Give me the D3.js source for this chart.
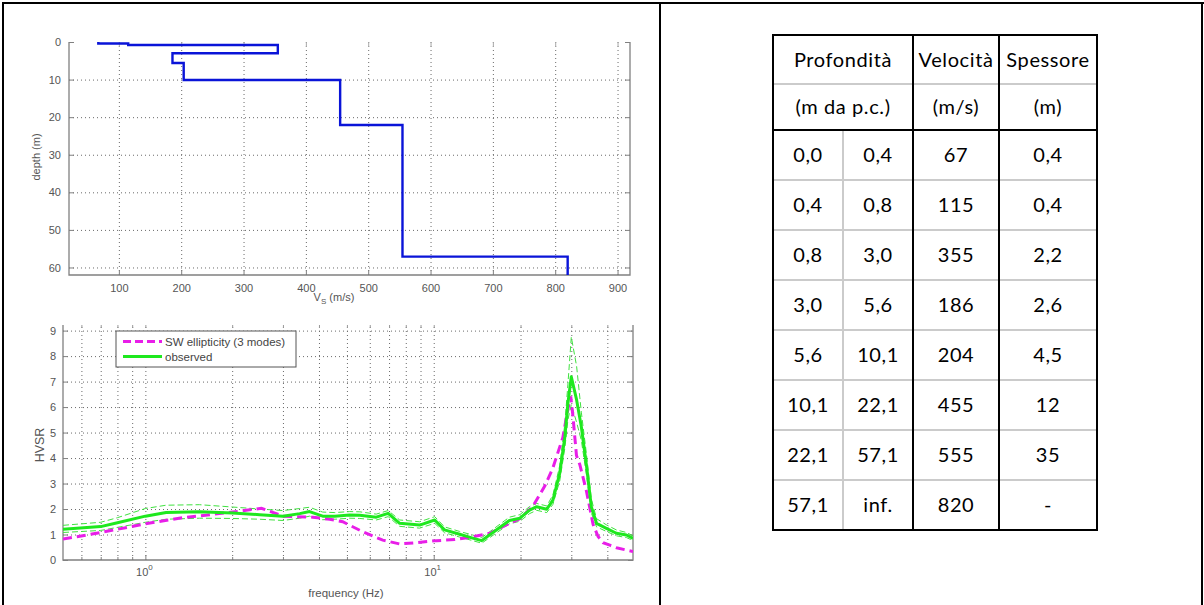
<!DOCTYPE html>
<html>
<head>
<meta charset="utf-8">
<script src="https://cdn.jsdelivr.net/npm/d3@7/dist/d3.min.js"></script>
<style>
  html, body { margin: 0; padding: 0; background: #fff; }
  svg { display: block; }
  .tick text { fill: #555; font-family: "Liberation Sans", Arial, sans-serif; font-size: 11px; }
</style>
</head>
<body>
<svg id="chart" width="1204" height="605"></svg>
<script>
// ---- Layer model (table + Vs profile) ----
const depthTop    = [0.0, 0.4, 0.8, 3.0, 5.6, 10.1, 22.1, 57.1];
const depthBottom = ["0,4", "0,8", "3,0", "5,6", "10,1", "22,1", "57,1", "inf."];
const velocity    = [67, 115, 355, 186, 204, 455, 555, 820];
const thickness   = ["0,4", "0,4", "2,2", "2,6", "4,5", "12", "35", "-"];
const tableHeader1 = ["Profondità", "Velocità", "Spessore"];
const tableHeader2 = ["(m da p.c.)", "(m/s)", "(m)"];

// ---- Vs profile axes ----
const vsTicks    = [100, 200, 300, 400, 500, 600, 700, 800, 900];
const depthTicks = [0, 10, 20, 30, 40, 50, 60];

// ---- HVSR curves ----
const freqObs = [0.518, 0.70, 0.80, 1.00, 1.18, 1.54, 2.00, 2.49, 3.00, 3.43, 3.71, 4.12, 4.54, 5.11,
                 5.54, 6.32, 6.95, 7.62, 8.94, 10.08, 10.9, 12.3, 13.65, 14.67, 15.6, 18.3, 19.9, 21.5,
                 22.75, 24.65, 25.9, 27.35, 28.5, 29.2, 30.0, 31.3, 32.5, 33.9, 35.2, 36.7, 39.7, 43.0,
                 46.6, 49.1];
const hvObs   = [1.21, 1.31, 1.46, 1.72, 1.86, 1.89, 1.84, 1.78, 1.72, 1.82, 1.90, 1.72, 1.72, 1.77,
                 1.76, 1.68, 1.83, 1.44, 1.37, 1.57, 1.18, 1.01, 0.86, 0.76, 0.98, 1.55, 1.64, 1.96,
                 2.09, 1.99, 2.35, 3.40, 4.84, 6.15, 7.19, 6.28, 5.23, 3.66, 2.09, 1.44, 1.24, 1.05,
                 0.98, 0.85];
const hvUpper = [1.36, 1.48, 1.66, 2.02, 2.15, 2.17, 2.08, 2.00, 1.94, 2.02, 2.07, 1.88, 1.86, 1.90,
                 1.89, 1.80, 1.94, 1.57, 1.50, 1.70, 1.30, 1.12, 0.98, 0.88, 1.10, 1.68, 1.78, 2.10,
                 2.22, 2.12, 2.55, 3.70, 5.35, 6.90, 8.75, 7.60, 5.80, 4.10, 2.40, 1.62, 1.38, 1.18,
                 1.08, 0.95];
const hvLower = [1.08, 1.16, 1.28, 1.48, 1.60, 1.64, 1.63, 1.60, 1.55, 1.64, 1.72, 1.58, 1.60, 1.64,
                 1.63, 1.57, 1.70, 1.32, 1.25, 1.44, 1.07, 0.90, 0.76, 0.66, 0.87, 1.42, 1.52, 1.82,
                 1.95, 1.86, 2.18, 3.10, 4.40, 5.50, 6.10, 5.40, 4.70, 3.30, 1.85, 1.30, 1.12, 0.95,
                 0.88, 0.76];
const freqSW = [0.518, 0.694, 1.00, 1.347, 2.008, 2.526, 3.001, 3.804, 4.357, 4.835, 5.671, 6.656,
                7.624, 8.73, 10.24, 11.83, 13.65, 15.64, 18.35, 19.88, 22.05, 24.27, 25.87, 28.03,
                29.16, 29.87, 30.42, 31.26, 32.1, 33.86, 35.69, 37.15, 38.66, 40.79, 43.03, 49.12];
const hvSW   = [0.82, 1.07, 1.42, 1.66, 1.88, 2.03, 1.72, 1.68, 1.60, 1.50, 1.11, 0.78,
                0.63, 0.68, 0.76, 0.80, 0.91, 1.05, 1.44, 1.62, 2.10, 2.90, 3.60, 4.80,
                5.90, 6.42, 5.60, 4.10, 3.75, 2.70, 1.40, 0.92, 0.68, 0.58, 0.48, 0.33];
const hvTicks = [0, 1, 2, 3, 4, 5, 6, 7, 8, 9];
const freqMinor = [0.6, 0.7, 0.8, 0.9, 2, 3, 4, 5, 6, 7, 8, 9, 20, 30, 40];
const freqMajor = [1, 10];
const legendItems = ["SW ellipticity (3 modes)", "observed"];

const svg = d3.select("#chart");
const FONT = '"Liberation Sans", Arial, sans-serif';
const AXIS = "#808080";
const GRID = "#6a6a6a";

// ---- page frame ----
const frame = svg.append("g").attr("stroke", "#000").attr("stroke-width", 2);
frame.append("line").attr("x1", 2).attr("x2", 1204).attr("y1", 3).attr("y2", 3);
frame.append("line").attr("x1", 3).attr("x2", 3).attr("y1", 3).attr("y2", 605);
frame.append("line").attr("x1", 660).attr("x2", 660).attr("y1", 3).attr("y2", 605);
frame.append("line").attr("x1", 1202).attr("x2", 1202).attr("y1", 3).attr("y2", 605);

function styleAxis(g) {
  g.select(".domain").remove();
  g.selectAll(".tick line").attr("stroke", AXIS);
}
function gridStyle(g) {
  g.select(".domain").remove();
  g.selectAll(".tick text").remove();
  g.selectAll(".tick line").attr("stroke", GRID).attr("stroke-dasharray", "1,3").attr("stroke-width", 1);
}

// ================= Vs profile =================
const p1 = { l: 69, r: 630, t: 42, b: 275 };
const xV = d3.scaleLinear().domain([20, 920]).range([p1.l, p1.r]);
const yD = d3.scaleLinear().domain([0, 62]).range([p1.t, p1.b]);

svg.append("g").attr("transform", `translate(0,${p1.b})`)
  .call(d3.axisBottom(xV).tickValues(vsTicks).tickSize(-(p1.b - p1.t)).tickFormat(""))
  .call(gridStyle);
svg.append("g").attr("transform", `translate(${p1.l},0)`)
  .call(d3.axisLeft(yD).tickValues(depthTicks.slice(1)).tickSize(-(p1.r - p1.l)).tickFormat(""))
  .call(gridStyle);

svg.append("g").attr("transform", `translate(0,${p1.b})`)
  .call(d3.axisBottom(xV).tickValues(vsTicks).tickSizeInner(-5).tickSizeOuter(0).tickPadding(9))
  .call(styleAxis);
svg.append("g").attr("transform", `translate(0,${p1.t})`)
  .call(d3.axisTop(xV).tickValues(vsTicks).tickSizeInner(-5).tickSizeOuter(0).tickFormat(""))
  .call(styleAxis)
  .selectAll(".tick line").attr("stroke", "#aaa");
svg.append("g").attr("transform", `translate(${p1.l},0)`)
  .call(d3.axisLeft(yD).tickValues(depthTicks).tickSizeInner(-5).tickSizeOuter(0).tickPadding(8))
  .call(styleAxis);
svg.append("g").attr("transform", `translate(${p1.r},0)`)
  .call(d3.axisRight(yD).tickValues(depthTicks).tickSizeInner(-5).tickSizeOuter(0).tickFormat(""))
  .call(styleAxis);

// axis box (left, bottom, right)
svg.append("path")
  .attr("d", `M${p1.l},${p1.t}V${p1.b}H${p1.r}V${p1.t}`)
  .attr("fill", "none").attr("stroke", AXIS).attr("stroke-width", 1.3);

// step profile from the layer table
const profile = [];
velocity.forEach((v, i) => {
  const top = depthTop[i];
  const bot = i + 1 < depthTop.length ? depthTop[i + 1] : yD.domain()[1];
  profile.push([v, top], [v, bot]);
});
svg.append("path")
  .datum(profile)
  .attr("d", d3.line().x(d => xV(d[0])).y(d => yD(d[1])))
  .attr("fill", "none").attr("stroke", "#0a14d8").attr("stroke-width", 2.4)
  .attr("stroke-linejoin", "miter");

svg.append("text").attr("transform", `translate(40,157) rotate(-90)`)
  .attr("text-anchor", "middle").attr("font-family", FONT).attr("font-size", 11).attr("fill", "#555")
  .text("depth (m)");
const vsLab = svg.append("text").attr("x", 334).attr("y", 301).attr("text-anchor", "middle")
  .attr("font-family", FONT).attr("font-size", 11).attr("fill", "#555");
vsLab.append("tspan").text("V");
vsLab.append("tspan").attr("dy", 3).attr("font-size", 8).text("S");
vsLab.append("tspan").attr("dy", -3).text(" (m/s)");

// ================= HVSR =================
const p2 = { l: 63, r: 633, t: 325, b: 560 };
const xF = d3.scaleLog().domain([0.518, 49.1]).range([p2.l, p2.r]);
const yH = d3.scaleLinear().domain([0, 9.22]).range([p2.b, p2.t]);

svg.append("g").attr("transform", `translate(0,${p2.b})`)
  .call(d3.axisBottom(xF).tickValues(freqMinor.concat(freqMajor)).tickSize(-(p2.b - p2.t)).tickFormat(""))
  .call(gridStyle);
svg.append("g").attr("transform", `translate(${p2.l},0)`)
  .call(d3.axisLeft(yH).tickValues(hvTicks.slice(1)).tickSize(-(p2.r - p2.l)).tickFormat(""))
  .call(gridStyle);

svg.append("g").attr("transform", `translate(0,${p2.b})`)
  .call(d3.axisBottom(xF).tickValues(freqMinor).tickSizeInner(-3).tickSizeOuter(0).tickFormat(""))
  .call(styleAxis);
svg.append("g").attr("transform", `translate(0,${p2.b})`)
  .call(d3.axisBottom(xF).tickValues(freqMajor).tickSizeInner(-5).tickSizeOuter(0).tickFormat(""))
  .call(styleAxis);
svg.append("g").attr("transform", `translate(0,${p2.t})`)
  .call(d3.axisTop(xF).tickValues(freqMinor.concat(freqMajor)).tickSizeInner(-3).tickSizeOuter(0).tickFormat(""))
  .call(styleAxis)
  .selectAll(".tick line").attr("stroke", "#999");
svg.append("g").attr("transform", `translate(${p2.l},0)`)
  .call(d3.axisLeft(yH).tickValues(hvTicks).tickSizeInner(-5).tickSizeOuter(0).tickPadding(7))
  .call(styleAxis)
  .selectAll(".tick text").attr("font-size", 12);
svg.append("g").attr("transform", `translate(${p2.r},0)`)
  .call(d3.axisRight(yH).tickValues(hvTicks).tickSizeInner(-5).tickSizeOuter(0).tickFormat(""))
  .call(styleAxis);

// decade labels 10^n
freqMajor.forEach(f => {
  const t = svg.append("text").attr("x", xF(f) - 1).attr("y", 576).attr("text-anchor", "middle")
    .attr("font-family", FONT).attr("font-size", 11).attr("fill", "#555");
  t.append("tspan").text("10");
  t.append("tspan").attr("dy", -6).attr("font-size", 8).text(String(Math.round(Math.log10(f))));
});

svg.append("path")
  .attr("d", `M${p2.l},${p2.t}V${p2.b}H${p2.r}V${p2.t}`)
  .attr("fill", "none").attr("stroke", AXIS).attr("stroke-width", 1.3);

const clip = svg.append("clipPath").attr("id", "hvclip");
clip.append("rect").attr("x", p2.l).attr("y", p2.t - 2).attr("width", p2.r - p2.l).attr("height", p2.b - p2.t + 2);
const plot = svg.append("g").attr("clip-path", "url(#hvclip)");

const lineObs = (vals) => d3.line().x((d, i) => xF(freqObs[i])).y(d => yH(d))(vals);
[hvUpper, hvLower].forEach(vals => {
  plot.append("path").attr("d", lineObs(vals))
    .attr("fill", "none").attr("stroke", "#3fe23f").attr("stroke-width", 1)
    .attr("stroke-dasharray", "6,3");
});
plot.append("path")
  .attr("d", d3.line().x((d, i) => xF(freqSW[i])).y(d => yH(d))(hvSW))
  .attr("fill", "none").attr("stroke", "#e81ee8").attr("stroke-width", 3)
  .attr("stroke-dasharray", "9,5");
plot.append("path").attr("d", lineObs(hvObs))
  .attr("fill", "none").attr("stroke", "#1ee81e").attr("stroke-width", 3)
  .attr("stroke-linejoin", "round");

// legend
const lg = svg.append("g");
lg.append("rect").attr("x", 116).attr("y", 331).attr("width", 180).attr("height", 36)
  .attr("fill", "#fff").attr("stroke", "#555").attr("stroke-width", 1);
const lgStyles = [
  { stroke: "#e81ee8", dash: "8,4" },
  { stroke: "#1ee81e", dash: null }
];
legendItems.forEach((name, i) => {
  const y = 341.5 + i * 15;
  lg.append("line").attr("x1", 123).attr("x2", 162).attr("y1", y).attr("y2", y)
    .attr("stroke", lgStyles[i].stroke).attr("stroke-width", 3)
    .attr("stroke-dasharray", lgStyles[i].dash);
  lg.append("text").attr("x", 165).attr("y", y + 4).attr("font-family", FONT)
    .attr("font-size", 11.5).attr("fill", "#444").text(name);
});

svg.append("text").attr("transform", `translate(44,445) rotate(-90)`)
  .attr("text-anchor", "middle").attr("font-family", FONT).attr("font-size", 12.5).attr("fill", "#555")
  .text("HVSR");
svg.append("text").attr("x", 346).attr("y", 597).attr("text-anchor", "middle")
  .attr("font-family", FONT).attr("font-size", 11.5).attr("fill", "#555")
  .text("frequency (Hz)");

// ================= layer table =================
const T = { l: 773, r: 1097, t: 35, h1: 84, h2: 130, b: 530 };
const colX = [773, 843, 913, 999, 1097];
const rowH = (T.b - T.h2) / velocity.length;
const tg = svg.append("g");
const TFONT = 'Lato, "Open Sans", sans-serif';
const TSIZE = 20;
const GRAY = "#cbcbcb";

// light inner rules
tg.append("line").attr("x1", T.l).attr("x2", T.r).attr("y1", T.h1).attr("y2", T.h1)
  .attr("stroke", GRAY).attr("stroke-width", 2);
velocity.slice(1).forEach((v, i) => {
  const y = T.h2 + rowH * (i + 1);
  tg.append("line").attr("x1", T.l).attr("x2", T.r).attr("y1", y).attr("y2", y)
    .attr("stroke", GRAY).attr("stroke-width", 2);
});
tg.append("line").attr("x1", colX[1]).attr("x2", colX[1]).attr("y1", T.h2).attr("y2", T.b)
  .attr("stroke", GRAY).attr("stroke-width", 2);
// heavy rules
tg.append("line").attr("x1", T.l).attr("x2", T.r).attr("y1", T.h2).attr("y2", T.h2)
  .attr("stroke", "#000").attr("stroke-width", 2);
[colX[2], colX[3]].forEach(x => {
  tg.append("line").attr("x1", x).attr("x2", x).attr("y1", T.t).attr("y2", T.b)
    .attr("stroke", "#000").attr("stroke-width", 2);
});
tg.append("rect").attr("x", T.l).attr("y", T.t).attr("width", T.r - T.l).attr("height", T.b - T.t)
  .attr("fill", "none").attr("stroke", "#000").attr("stroke-width", 2);

function cellText(x, y, s) {
  tg.append("text").attr("x", x).attr("y", y).attr("text-anchor", "middle")
    .attr("font-family", TFONT).attr("font-size", TSIZE).attr("letter-spacing", 0.6)
    .attr("fill", "#000").text(s);
}
const headCx = [(colX[0] + colX[2]) / 2, (colX[2] + colX[3]) / 2, (colX[3] + colX[4]) / 2];
tableHeader1.forEach((s, i) => cellText(headCx[i], 67, s));
tableHeader2.forEach((s, i) => cellText(headCx[i], 114, s));
const fmtDepth = d => d3.format(".1f")(d).replace(".", ",");
const rows = velocity.map((v, i) => [fmtDepth(depthTop[i]), depthBottom[i], String(v), thickness[i]]);
const cellCx = [808, 878, 956, 1048];
rows.forEach((r, i) => {
  const y = T.h2 + rowH * i + rowH / 2 + 7;
  r.forEach((s, j) => cellText(cellCx[j], y, s));
});
</script>
</body>
</html>
